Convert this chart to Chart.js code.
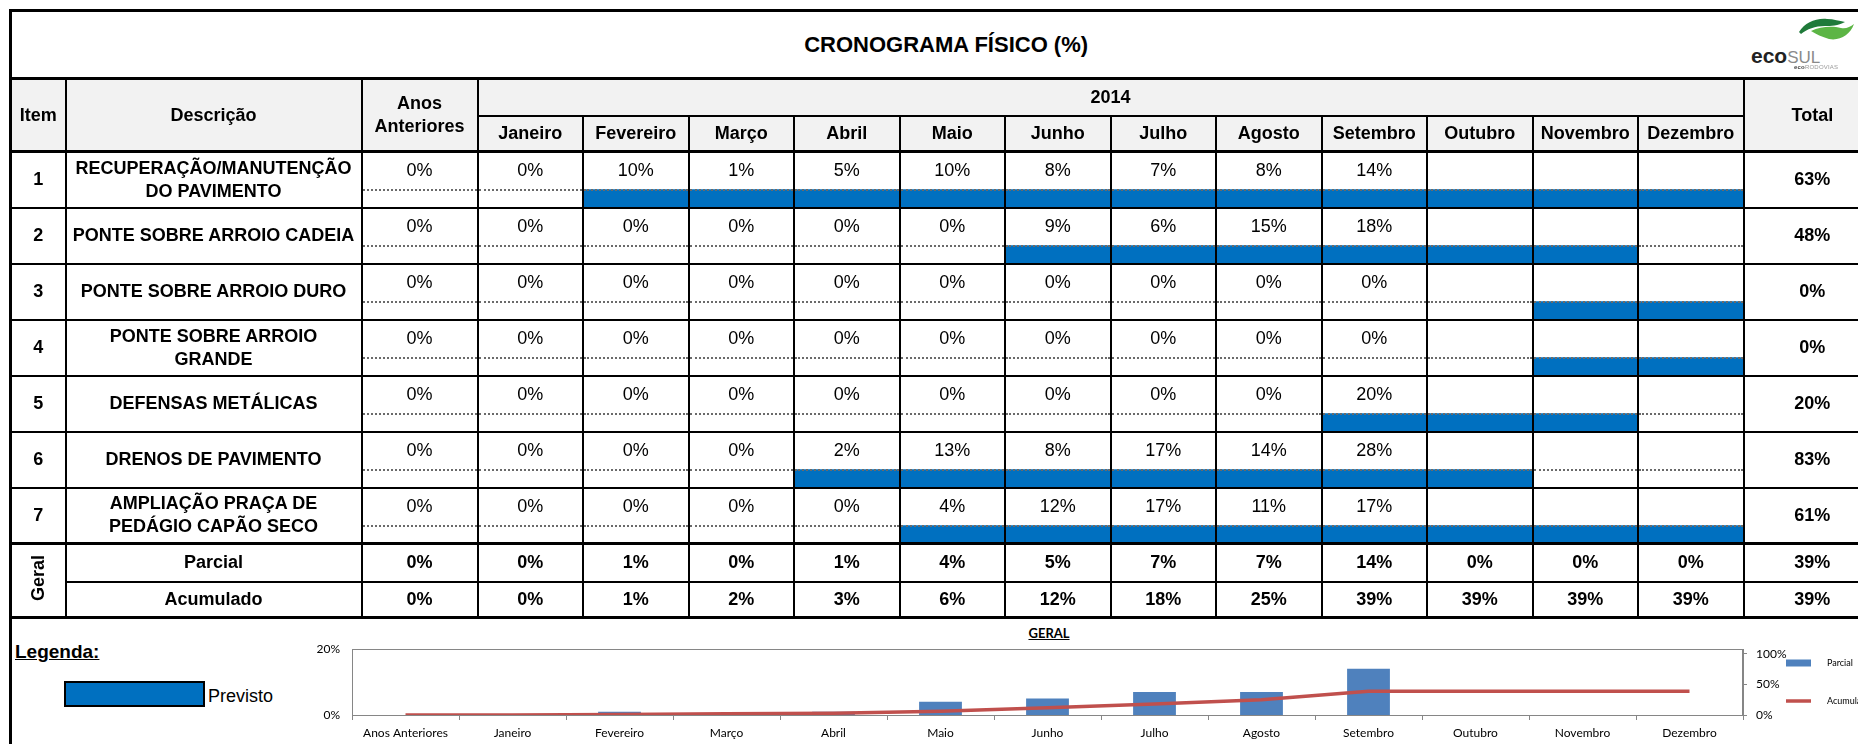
<!DOCTYPE html>
<html>
<head>
    <meta charset="UTF-8">
    <title>Cronograma Físico (%)</title>
    <script src="https://cdn.jsdelivr.net/npm/chart.js"></script>
    <style>
        html, body { margin: 0; padding: 0; background: #fff; }
        body { width: 1858px; height: 744px; overflow: hidden; position: relative; font-family: 'Liberation Sans', Arial, sans-serif; color: #000; }

        /* tabela principal */
        #crono { position: absolute; left: 9px; top: 9px; z-index: 1; border-collapse: collapse; table-layout: fixed; width: 1871px; border: 3px solid #000; }
        #crono td, #crono th { border: 2px solid #000; padding: 0; text-align: center; vertical-align: middle; font-size: 18px; white-space: nowrap; overflow: hidden; }
        #crono th { background: #f2f2f2; font-weight: bold; line-height: 23px; }
        #crono tr.titulo td { font-size: 22px; font-weight: bold; border-bottom: 3px solid #000; background: #fff; }
        #crono th.hb, #crono tr.cab2 th { border-bottom: 3px solid #000; }
        #crono td.b { font-weight: bold; }
        #crono td.desc { white-space: pre-line; line-height: 23px; }
        #crono tr.sup td.v { border-bottom: 2px dotted #6a6a6a; }
        #crono tr.inf td { border-top: 2px dotted #6a6a6a; }
        #crono tr.g1 td { border-top: 3px solid #000; }
        #crono tr.g2 td, #crono td.geral { border-bottom: 3px solid #000; }
        #crono td.geral span { display: inline-block; writing-mode: vertical-rl; transform: rotate(180deg); }

        tr.titulo { height: 68px; }
        tr.cab1 { height: 37px; }
        tr.cab2 { height: 36px; }
        tr.sup { height: 38px; }
        tr.inf { height: 18px; }
        tr.g1 { height: 38px; }
        tr.g2 { height: 36px; }

        #ganttBox { position: absolute; z-index: 0; }

        /* logo */
        #swoosh { position: absolute; left: 1799px; top: 18px; z-index: 2; }
        #marca { position: absolute; left: 1751px; top: 45px; z-index: 2; font-size: 21px; line-height: 21px; }
        #marca b { color: #222; }
        #marca span { color: #8a8a8a; font-size: 17px; }
        #submarca { position: absolute; left: 1794px; top: 64px; z-index: 2; font-size: 6px; color: #999; letter-spacing: 0.2px; }
        #submarca b { color: #444; }

        /* rodapé */
        #bordaEsq { position: absolute; left: 9px; top: 612px; width: 3px; height: 140px; background: #000; }
        #legenda { position: absolute; left: 15px; top: 641px; font-size: 19px; font-weight: bold; text-decoration: underline; }
        #amostra { position: absolute; left: 64px; top: 681px; width: 137px; height: 22px; background: #0070C0; border: 2px solid #000; }
        #previsto { position: absolute; left: 208px; top: 686px; font-size: 18px; }
        #tituloGeral { position: absolute; left: 1019px; width: 60px; top: 625px; text-align: center; font-family: Lato, sans-serif; font-size: 13px; font-weight: bold; text-decoration: underline; }
        #graficoBox { position: absolute; left: 300px; top: 622px; }
    </style>
</head>
<body>
    <div id="ganttBox"><canvas id="gantt"></canvas></div>
    <table id="crono"></table>

    <svg id="swoosh" width="56" height="24" viewBox="0 0 56 24">
        <path d="M0,14 C6,5 16,0 28,1 C35,1 40,3 46,4 C39,8 32,8 26,8 C16,8 8,11 2,16 Z" fill="#1f7a3a"/>
        <path d="M12,13 C22,8 34,8 42,10 C47,11 51,9 55,6 C51,17 41,23 30,21 C23,19 17,16 12,13 Z" fill="#5cb545"/>
    </svg>
    <div id="marca"><b>eco</b><span>SUL</span></div>
    <div id="submarca"><b>eco</b>RODOVIAS</div>

    <div id="bordaEsq"></div>
    <div id="legenda">Legenda:</div>
    <div id="amostra"></div>
    <div id="previsto">Previsto</div>
    <div id="tituloGeral">GERAL</div>
    <div id="graficoBox"><canvas id="grafico" width="1560" height="122"></canvas></div>

    <script>
        // categorias (Anos Anteriores + meses de 2014)
        const categorias = ['Anos Anteriores', 'Janeiro', 'Fevereiro', 'Março', 'Abril', 'Maio', 'Junho',
                            'Julho', 'Agosto', 'Setembro', 'Outubro', 'Novembro', 'Dezembro'];

        const itens = ['1', '2', '3', '4', '5', '6', '7'];
        const descricoes = [
            'RECUPERAÇÃO/MANUTENÇÃO\nDO PAVIMENTO',
            'PONTE SOBRE ARROIO CADEIA',
            'PONTE SOBRE ARROIO DURO',
            'PONTE SOBRE ARROIO\nGRANDE',
            'DEFENSAS METÁLICAS',
            'DRENOS DE PAVIMENTO',
            'AMPLIAÇÃO PRAÇA DE\nPEDÁGIO CAPÃO SECO'
        ];

        // % físico por item (null = célula vazia)
        const item1 = [0, 0, 10, 1, 5, 10, 8, 7, 8, 14, null, null, null];
        const item2 = [0, 0, 0, 0, 0, 0, 9, 6, 15, 18, null, null, null];
        const item3 = [0, 0, 0, 0, 0, 0, 0, 0, 0, 0, null, null, null];
        const item4 = [0, 0, 0, 0, 0, 0, 0, 0, 0, 0, null, null, null];
        const item5 = [0, 0, 0, 0, 0, 0, 0, 0, 0, 20, null, null, null];
        const item6 = [0, 0, 0, 0, 2, 13, 8, 17, 14, 28, null, null, null];
        const item7 = [0, 0, 0, 0, 0, 4, 12, 17, 11, 17, null, null, null];
        const totais = [63, 48, 0, 0, 20, 83, 61];

        // previsto: mês inicial e final (1 = Janeiro ... 12 = Dezembro)
        const previstoInicio = [2, 6, 11, 11, 9, 4, 5];
        const previstoFim = [12, 11, 12, 12, 11, 10, 12];

        // geral
        const parcial = [0, 0, 1, 0, 1, 4, 5, 7, 7, 14, 0, 0, 0];
        const acumulado = [0, 0, 1, 2, 3, 6, 12, 18, 25, 39, 39, 39, 39];
        const totalParcial = 39;
        const totalAcumulado = 39;

        const valores = [item1, item2, item3, item4, item5, item6, item7];
        const meses = categorias.slice(1);
        const fmt = v => (v === null ? '' : v + '%');

        // monta a tabela
        let html = '<colgroup><col style="width:55px"><col style="width:296px"><col style="width:116px">';
        meses.forEach(() => { html += '<col style="width:105.5px">'; });
        html += '<col style="width:138px"></colgroup>';
        html += '<tr class="titulo"><td colspan="16">CRONOGRAMA FÍSICO (%)</td></tr>';
        html += '<tr class="cab1"><th rowspan="2" class="hb">Item</th><th rowspan="2" class="hb">Descrição</th>' +
                '<th rowspan="2" class="hb">Anos<br>Anteriores</th><th colspan="12">2014</th><th rowspan="2" class="hb">Total</th></tr>';
        html += '<tr class="cab2">' + meses.map((m, i) => '<th id="m' + i + '">' + m + '</th>').join('') + '</tr>';
        valores.forEach((linha, i) => {
            html += '<tr class="sup"><td rowspan="2" class="b">' + itens[i] + '</td><td rowspan="2" class="b desc">' + descricoes[i] + '</td>';
            html += linha.map(v => '<td class="v">' + fmt(v) + '</td>').join('');
            html += '<td rowspan="2" class="b">' + totais[i] + '%</td></tr>';
            html += '<tr class="inf">' + linha.map(() => '<td></td>').join('') + '</tr>';
        });
        html += '<tr class="g1"><td rowspan="2" class="b geral"><span>Geral</span></td><td class="b">Parcial</td>' +
                parcial.map(v => '<td class="b">' + fmt(v) + '</td>').join('') + '<td class="b">' + totalParcial + '%</td></tr>';
        html += '<tr class="g2"><td class="b">Acumulado</td>' +
                acumulado.map(v => '<td class="b">' + fmt(v) + '</td>').join('') + '<td class="b">' + totalAcumulado + '%</td></tr>';
        document.getElementById('crono').innerHTML = html;

        // barras do previsto (gantt) por baixo da grade
        const linhasInf = document.querySelectorAll('#crono tr.inf');
        const r1 = linhasInf[0].getBoundingClientRect();
        const rN = linhasInf[linhasInf.length - 1].getBoundingClientRect();
        const c1 = (r1.top + r1.bottom) / 2;
        const cN = (rN.top + rN.bottom) / 2;
        const passo = (cN - c1) / (linhasInf.length - 1);
        const jan = document.getElementById('m0').getBoundingClientRect();
        const dez = document.getElementById('m11').getBoundingClientRect();
        const gW = Math.round(dez.right - jan.left);
        const gH = Math.round(passo * itens.length);
        const ganttBox = document.getElementById('ganttBox');
        ganttBox.style.left = jan.left + 'px';
        ganttBox.style.top = (c1 - passo / 2) + 'px';
        const ganttCv = document.getElementById('gantt');
        ganttCv.width = gW;
        ganttCv.height = gH;

        new Chart(ganttCv, {
            type: 'bar',
            data: {
                labels: itens,
                datasets: [{
                    label: 'Previsto',
                    data: previstoInicio.map((s, i) => [s - 1, previstoFim[i]]),
                    backgroundColor: '#0070C0',
                    borderWidth: 0,
                    barThickness: r1.height + 1
                }]
            },
            options: {
                indexAxis: 'y',
                responsive: false,
                maintainAspectRatio: false,
                animation: false,
                devicePixelRatio: 1,
                layout: { padding: 0 },
                plugins: { legend: { display: false }, tooltip: { enabled: false } },
                scales: {
                    x: { type: 'linear', min: 0, max: 12, display: false },
                    y: { display: false }
                }
            }
        });

        // gráfico GERAL
        const cinza = '#868686';
        const moldura = {
            id: 'moldura',
            beforeDatasetsDraw(chart) {
                const { ctx, chartArea: a } = chart;
                ctx.save();
                ctx.strokeStyle = cinza;
                ctx.lineWidth = 1;
                ctx.strokeRect(Math.round(a.left) + 0.5, Math.round(a.top) + 0.5, Math.round(a.width) - 1, Math.round(a.height));
                ctx.restore();
            }
        };
        // legenda ao lado do eixo direito (como no Excel)
        const legendaLateral = {
            id: 'legendaLateral',
            afterDraw(chart) {
                const { ctx, chartArea: a } = chart;
                const x0 = a.right + 43;
                ctx.save();
                ctx.font = '9px Lato';
                ctx.textBaseline = 'middle';
                chart.data.datasets.forEach((ds, i) => {
                    const y = a.top + 14 + i * 38;
                    if (ds.type === 'line') {
                        ctx.strokeStyle = ds.borderColor;
                        ctx.lineWidth = ds.borderWidth;
                        ctx.beginPath();
                        ctx.moveTo(x0, y);
                        ctx.lineTo(x0 + 25, y);
                        ctx.stroke();
                    } else {
                        ctx.fillStyle = ds.backgroundColor;
                        ctx.fillRect(x0, y - 3.5, 25, 7);
                    }
                    ctx.fillStyle = '#000';
                    ctx.fillText(ds.label, x0 + 41, y);
                });
                ctx.restore();
            }
        };
        const fonteEixo = { family: 'Lato', size: 12 };

        const grafico = new Chart(document.getElementById('grafico'), {
            data: {
                labels: categorias,
                datasets: [
                    { type: 'bar', label: 'Parcial', data: parcial, backgroundColor: '#4F81BD', yAxisID: 'y',
                      barPercentage: 0.4, categoryPercentage: 1, order: 1 },
                    { type: 'line', label: 'Acumulado', data: acumulado, borderColor: '#C0504D', backgroundColor: '#C0504D',
                      borderWidth: 3.5, pointRadius: 0, tension: 0, yAxisID: 'y1', order: 0 }
                ]
            },
            options: {
                responsive: false,
                maintainAspectRatio: false,
                animation: false,
                devicePixelRatio: 1,
                layout: { padding: { top: 27, left: 0, right: 110, bottom: 0 } },
                plugins: {
                    tooltip: { enabled: false },
                    legend: { display: false }
                },
                scales: {
                    x: {
                        grid: { offset: true, drawOnChartArea: false, tickLength: 5, color: cinza },
                        border: { color: cinza },
                        ticks: { autoSkip: false, maxRotation: 0, padding: 6, color: '#000', font: fonteEixo },
                        afterFit(s) { s.height = 29; }
                    },
                    y: {
                        position: 'left', min: 0, max: 20,
                        grid: { display: false, drawTicks: false },
                        border: { color: cinza },
                        ticks: { stepSize: 20, padding: 12, color: '#000', font: fonteEixo, callback: v => v + '%' },
                        afterFit(s) { s.width = 52; }
                    },
                    y1: {
                        position: 'right', min: 0, max: 108,
                        grid: { drawOnChartArea: false, tickLength: 4, color: cinza },
                        border: { color: cinza },
                        ticks: { stepSize: 50, includeBounds: false, padding: 9, color: '#000', font: fonteEixo, callback: v => v + '%' },
                        afterFit(s) { s.width = 45; }
                    }
                }
            },
            plugins: [moldura, legendaLateral]
        });

        // ajusta a largura para a área do gráfico terminar em x = 1743
        const dif = (1743 - 300) - grafico.chartArea.right;
        grafico.resize(grafico.width + dif, 122);
    </script>
</body>
</html>
